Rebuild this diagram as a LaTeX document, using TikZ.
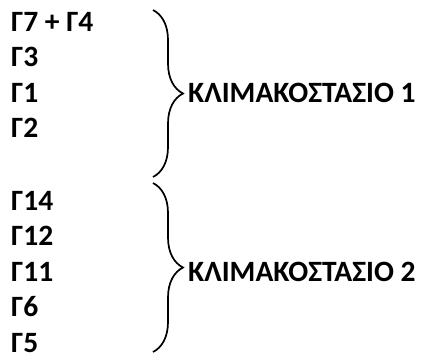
\documentclass[tikz,border=0pt]{standalone}
\usepackage{fontspec}
\setmainfont{Carlito}
\usetikzlibrary{decorations.pathreplacing}
\begin{document}
\begin{tikzpicture}[x=1pt,y=-1pt,
  lbl/.style={anchor=base west, inner sep=0pt, font=\fontsize{29.5}{34}\selectfont\bfseries},
  brc/.style={draw, line width=1.7pt, decorate, decoration={brace, amplitude=30pt}}]
\useasboundingbox (0,0) rectangle (422,354);
\node[lbl] (g74) at (11,31) {Γ7 + Γ4};
\node[lbl] (g3) at (11,66.5) {Γ3};
\node[lbl] (g1) at (11,102) {Γ1};
\node[lbl] (g2) at (11,137.5) {Γ2};
\node[lbl] (g14) at (11,210) {Γ14};
\node[lbl] (g12) at (11,245.5) {Γ12};
\node[lbl] (g11) at (11,281) {Γ11};
\node[lbl] (g6) at (11,316.5) {Γ6};
\node[lbl] (g5) at (11,352) {Γ5};
\node[lbl] (k1) at (188,102) {ΚΛΙΜΑΚΟΣΤΑΣΙΟ 1};
\node[lbl] (k2) at (188,281) {ΚΛΙΜΑΚΟΣΤΑΣΙΟ 2};
\coordinate (b1s) at (153,10);
\coordinate (b1e) at (153,177);
\coordinate (b2s) at (153,183);
\coordinate (b2e) at (153,352);
\draw[brc] (b1s) -- (b1e);
\draw[brc] (b2s) -- (b2e);
\end{tikzpicture}
\end{document}
